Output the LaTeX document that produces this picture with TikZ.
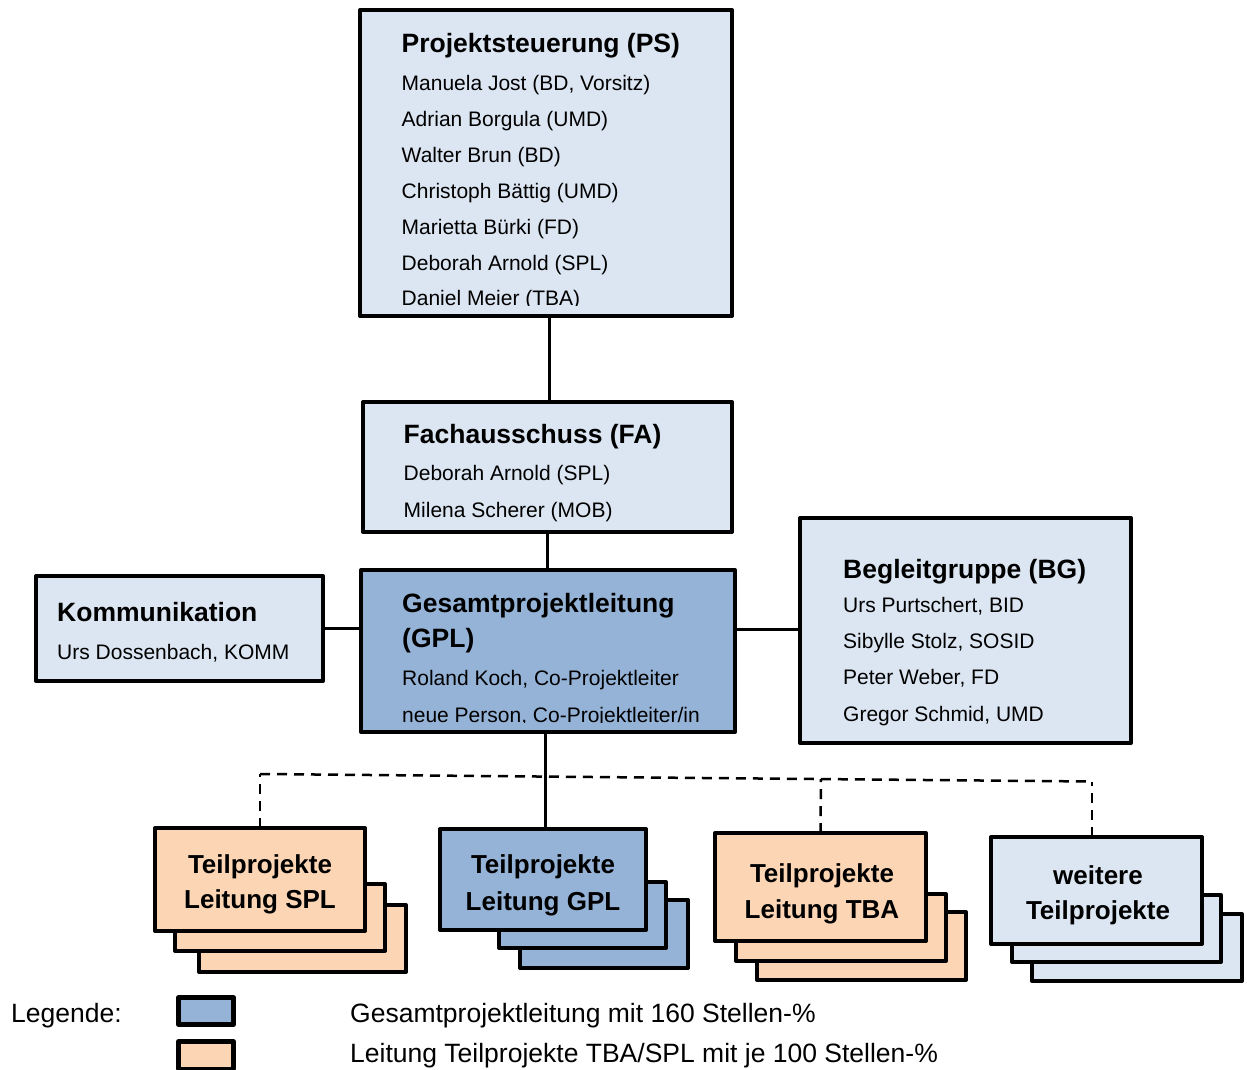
\documentclass[tikz,border=0pt]{standalone}
\usepackage{fontspec}
\setmainfont{Liberation Sans}
\usetikzlibrary{calc}
\definecolor{lightblue}{HTML}{DCE6F2}
\definecolor{midblue}{HTML}{95B3D7}
\definecolor{peach}{HTML}{FCD5B5}
\tikzset{
  box/.style={draw=black, line width=4pt, line join=round, inner sep=0pt, outer sep=0pt, rectangle},
  lbox/.style={box, fill=lightblue},
  mbox/.style={box, fill=midblue},
  pbox/.style={box, fill=peach},
  txt/.style={anchor=base west, inner sep=0pt, font=\fontsize{21}{25}\selectfont},
  ttl/.style={anchor=base west, inner sep=0pt, font=\bfseries\fontsize{26.5}{30}\selectfont},
  tpl/.style={anchor=base, inner sep=0pt, font=\bfseries\fontsize{26}{30}\selectfont},
  leg/.style={anchor=base west, inner sep=0pt, font=\fontsize{26.5}{30}\selectfont},
  conn/.style={draw=black, line width=3pt},
  dashconn/.style={draw=black, line width=2.5pt, dash pattern=on 10pt off 7pt},
}
\begin{document}
\begin{tikzpicture}[x=1pt, y=-1pt]
\useasboundingbox (0,0) rectangle (1247,1070);

% --- main boxes
\node[lbox, minimum width=372pt, minimum height=306pt] (PS) at (546,163) {};
\node[lbox, minimum width=369pt, minimum height=130pt] (FA) at (547.5,467) {};
\node[mbox, minimum width=374pt, minimum height=162pt] (GPL) at (548,651) {};
\node[lbox, minimum width=287pt, minimum height=105pt] (Komm) at (179.5,628.5) {};
\node[lbox, minimum width=331pt, minimum height=225pt] (BG) at (965.5,630.5) {};

% --- PS text
\begin{scope}
\clip (PS.north west) rectangle ($(PS.south east)+(0,-11)$);
\node[ttl] (psT) at (401.5,53) {Projektsteuerung (PS)};
\node[txt] (ps1) at (401.5,91) {Manuela Jost (BD, Vorsitz)};
\node[txt] (ps2) at (401.5,126.8) {Adrian Borgula (UMD)};
\node[txt] (ps3) at (401.5,162.6) {Walter Brun (BD)};
\node[txt] (ps4) at (401.5,198.4) {Christoph Bättig (UMD)};
\node[txt] (ps5) at (401.5,234.2) {Marietta Bürki (FD)};
\node[txt] (ps6) at (401.5,270) {Deborah Arnold (SPL)};
\node[txt] (ps7) at (401.5,305.8) {Daniel Meier (TBA)};
\end{scope}

% --- FA text
\node[ttl] (faT) at (403.5,443) {Fachausschuss (FA)};
\node[txt] (fa1) at (403.5,480) {Deborah Arnold (SPL)};
\node[txt] (fa2) at (403.5,517) {Milena Scherer (MOB)};

% --- GPL text
\begin{scope}
\clip (GPL.north west) rectangle ($(GPL.south east)+(0,-10)$);
\node[ttl] (gplT1) at (402,612) {Gesamtprojektleitung};
\node[ttl] (gplT2) at (402,647) {(GPL)};
\node[txt] (gpl1) at (402,685) {Roland Koch, Co-Projektleiter};
\node[txt] (gpl2) at (402,722) {neue Person, Co-Projektleiter/in};
\end{scope}

% --- Kommunikation text
\node[ttl] (kT) at (57,621) {Kommunikation};
\node[txt] (k1) at (57,659) {Urs Dossenbach, KOMM};

% --- BG text
\node[ttl] (bgT) at (843,578) {Begleitgruppe (BG)};
\node[txt] (bg1) at (843,612) {Urs Purtschert, BID};
\node[txt] (bg2) at (843,648) {Sibylle Stolz, SOSID};
\node[txt] (bg3) at (843,684) {Peter Weber, FD};
\node[txt] (bg4) at (843,721) {Gregor Schmid, UMD};

% --- Teilprojekte stacks
\node[pbox, minimum width=207pt, minimum height=67pt] (spl3) at (302.5,938.5) {};
\node[pbox, minimum width=210pt, minimum height=67pt] (spl2) at (280,917.5) {};
\node[pbox, minimum width=210pt, minimum height=103pt] (TPspl) at (260,879.5) {};

\node[mbox, minimum width=168pt, minimum height=68pt] (gpl3) at (604,934) {};
\node[mbox, minimum width=167pt, minimum height=66pt] (gpl2) at (582.5,915) {};
\node[mbox, minimum width=206pt, minimum height=101pt] (TPgpl) at (543,879.5) {};

\node[pbox, minimum width=209pt, minimum height=68pt] (tba3) at (861.5,946) {};
\node[pbox, minimum width=210pt, minimum height=67pt] (tba2) at (841,927.5) {};
\node[pbox, minimum width=211pt, minimum height=108pt] (TPtba) at (820.5,887) {};

\node[lbox, minimum width=210pt, minimum height=67pt] (w3) at (1137,947.5) {};
\node[lbox, minimum width=209pt, minimum height=67pt] (w2) at (1116.5,928.5) {};
\node[lbox, minimum width=211pt, minimum height=107pt] (TPw) at (1096.5,890.5) {};

\node[tpl] (splA) at (260,873) {Teilprojekte};
\node[tpl] (splB) at (260,908) {Leitung SPL};
\node[tpl] (gplA) at (543,873) {Teilprojekte};
\node[tpl] (gplB) at (543,910) {Leitung GPL};
\node[tpl] (tbaA) at (822,882) {Teilprojekte};
\node[tpl] (tbaB) at (822,918) {Leitung TBA};
\node[tpl] (wA) at (1098,884) {weitere};
\node[tpl] (wB) at (1098,919) {Teilprojekte};

% --- connectors
\draw[conn] ([xshift=3pt]PS.south) -- ([xshift=3pt]PS.south |- FA.north);
\draw[conn] (FA.south) -- (FA.south |- GPL.north);
\draw[conn] (Komm.east) -- (Komm.east -| GPL.west);
\draw[conn] ([yshift=1.5pt]BG.west) -- ([yshift=1.5pt]BG.west -| GPL.east);

\coordinate (dl) at (260,774);
\coordinate (dr) at (1092,781.5);
\draw[dashconn] (dl) -- (dr);
\draw[dashconn] (TPspl.north) -- (dl);
\draw[dashconn] (TPtba.north) -- ($(dl)!(TPtba.north)!(dr)$);
\draw[dashconn] (dr |- TPw.north) -- (dr);
\draw[conn] ([xshift=2pt]TPgpl.north) -- ([xshift=2pt]TPgpl.north |- GPL.south);

% --- legend
\node[leg] (legT) at (11,1022) {Legende:};
\node[mbox, line width=4.5pt, minimum width=55pt, minimum height=27pt] (legB1) at (206,1011) {};
\node[pbox, line width=4.5pt, minimum width=55pt, minimum height=27.5pt] (legB2) at (206,1055.25) {};
\node[leg] (leg1) at (350,1022) {Gesamtprojektleitung mit 160 Stellen-\%};
\node[leg] (leg2) at (350,1062) {Leitung Teilprojekte TBA/SPL mit je 100 Stellen-\%};
\end{tikzpicture}
\end{document}
